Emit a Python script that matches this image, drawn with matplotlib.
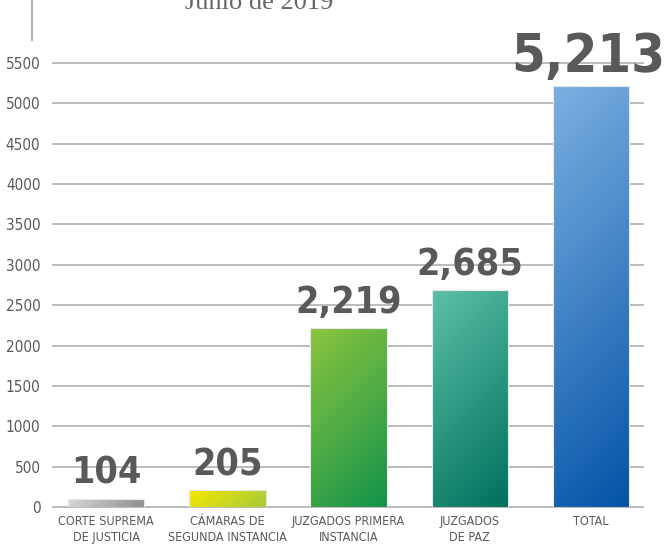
import numpy as np
import matplotlib
matplotlib.use('Agg')
import matplotlib.pyplot as plt
from matplotlib.colors import LinearSegmentedColormap
from matplotlib.patches import Rectangle
from matplotlib.lines import Line2D

categories = ['CORTE SUPREMA\nDE JUSTICIA', 'CÁMARAS DE\nSEGUNDA INSTANCIA',
              'JUZGADOS PRIMERA\nINSTANCIA', 'JUZGADOS\nDE PAZ', 'TOTAL']
values = [104, 205, 2219, 2685, 5213]
value_labels = ['104', '205', '2,219', '2,685', '5,213']
yticks = [0, 500, 1000, 1500, 2000, 2500, 3000, 3500, 4000, 4500, 5000, 5500]
title = 'Junio de 2019'

# start / end colours of each bar gradient (top-left -> bottom-right)
grads = [('#d9dadc', '#8c8d91'),
         ('#f5e700', '#a6cb3a'),
         ('#8dc63f', '#12924a'),
         ('#5cc0a6', '#00705c'),
         ('#7cb0e2', '#0353a6')]

text_col = '#58595b'
grid_col = '#b5b5b5'
cond = dict(family='DejaVu Sans', stretch='condensed')

fig = plt.figure(figsize=(6.65, 5.48), dpi=100)
ax = fig.add_axes([53 / 665, 41 / 548, 590 / 665, 444 / 548])
ax.set_xlim(-0.44, 4.43)
ax.set_ylim(0, 5500)

for y in yticks:
    ax.axhline(y, color=grid_col, lw=1.3, zorder=0, clip_on=False)

fig.canvas.draw()
width = 0.63
for i, v in enumerate(values):
    x0 = i - width / 2
    # pixel size of the bar, for a 45 degree gradient
    p0 = ax.transData.transform((x0, 0))
    p1 = ax.transData.transform((x0 + width, v))
    wpx = max(p1[0] - p0[0], 1)
    hpx = max(p1[1] - p0[1], 1)
    xx, yy = np.meshgrid(np.linspace(0, wpx, int(wpx) + 1),
                         np.linspace(hpx, 0, int(hpx) + 1))
    t = (xx + (hpx - yy)) / (wpx + hpx)
    cmap = LinearSegmentedColormap.from_list('g%d' % i, grads[i])
    im = ax.imshow(t, cmap=cmap, vmin=0, vmax=1, extent=(x0, x0 + width, 0, v),
                   aspect='auto', origin='upper', zorder=2, interpolation='bilinear')
    rect = Rectangle((x0, 0), width, v, facecolor='none', edgecolor='#e8e8e8',
                     lw=0.8, zorder=3)
    ax.add_patch(rect)
    im.set_clip_path(rect)

# value labels above bars
for i, v in enumerate(values):
    size = 39 if i == 4 else 27
    off = 10 if i == 4 else 11
    ax.annotate(value_labels[i], (i, v), xytext=(-2 if i == 4 else 0, off),
                textcoords='offset points', ha='center', va='baseline',
                fontsize=size, fontweight='bold', color=text_col, zorder=5,
                annotation_clip=False, **cond)

ax.set_xticks(range(len(categories)))
ax.set_xticklabels(categories, fontsize=9, color=text_col, linespacing=1.3, **cond)
ax.set_yticks(yticks)
ax.set_yticklabels([str(y) for y in yticks], fontsize=11, color=text_col, **cond)
ax.tick_params(axis='both', length=0)
ax.tick_params(axis='x', pad=6)
ax.tick_params(axis='y', pad=9)
for s in ax.spines.values():
    s.set_visible(False)

fig.text(185 / 665, 1 - 9 / 548, title, ha='left', va='baseline', fontsize=19,
         family='Liberation Serif', color='#666666')
fig.add_artist(Line2D([32 / 665, 32 / 665], [1, 1 - 40 / 548], color='#b5b5b5', lw=1.5))

fig.savefig('out.png', dpi=100)
